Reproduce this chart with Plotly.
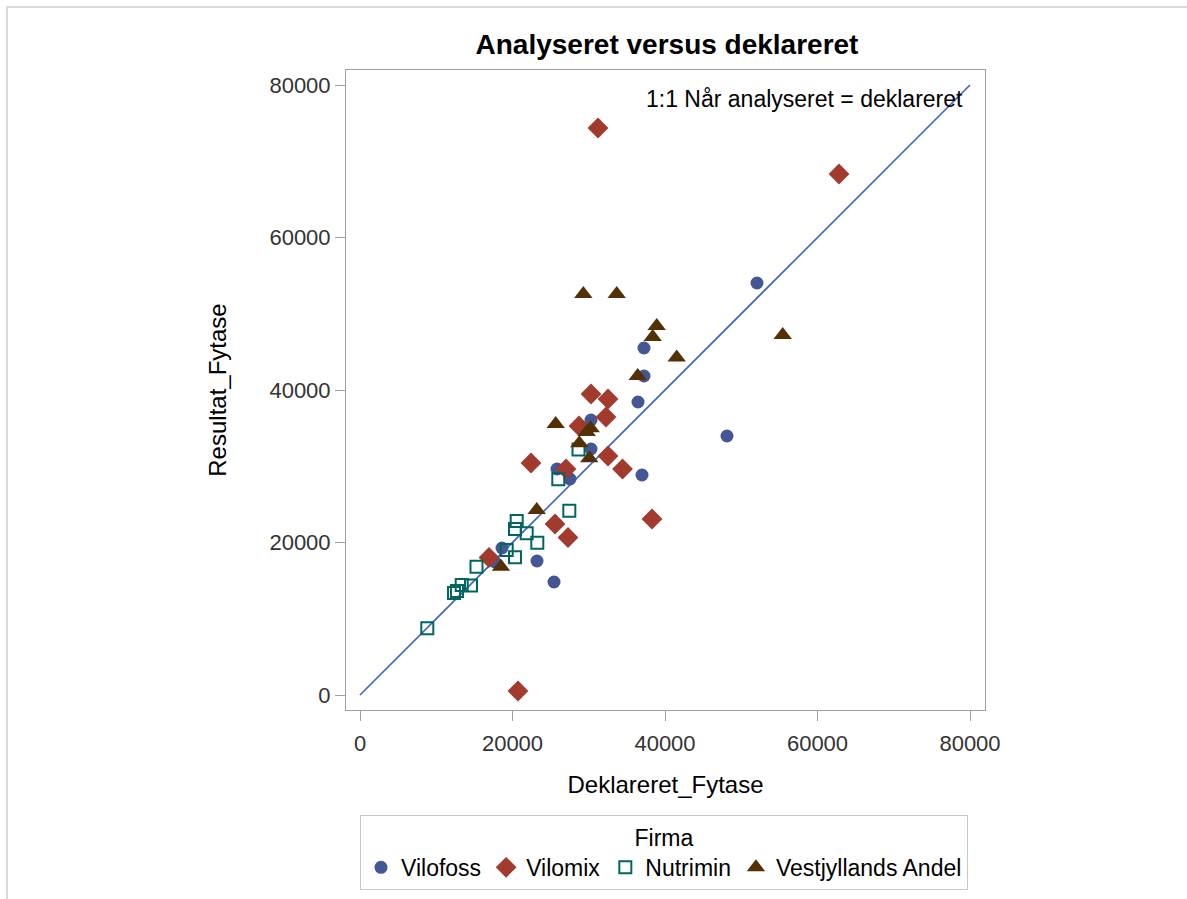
import plotly.graph_objects as go

# ---- data ----
vilofoss_x = [52066, 48131, 37246, 37246, 36459, 36984, 30295, 30295, 25836, 27541, 18623, 17705, 23213, 25443]
vilofoss_y = [54033, 33967, 45508, 41836, 38426, 28852, 36066, 32262, 29639, 28328, 19279, 17443, 17574, 14820]

vilomix_x = [31213, 62820, 30295, 32524, 32262, 28721, 22426, 27016, 32524, 34426, 25574, 27279, 38295, 16918, 20721]
vilomix_y = [74361, 68328, 39475, 38820, 36459, 35279, 30426, 29639, 31344, 29639, 22426, 20656, 23082, 18033, 525]

nutrimin_x = [28656, 26007, 27450, 20551, 20328, 21862, 23252, 19239, 20328, 15279, 14557, 13338, 12721, 12328, 8826]
nutrimin_y = [32197, 28288, 24170, 22820, 21770, 21207, 19974, 19016, 18059, 16826, 14361, 14426, 13639, 13377, 8748]

vest_x = [29289, 33666, 38912, 38387, 41534, 36420, 55436, 25666, 30256, 29731, 28761, 30072, 23174, 18492]
vest_y = [52590, 52590, 48393, 46951, 44262, 41836, 47213, 35541, 34977, 34492, 33010, 31043, 24262, 16826]

ref_line = [0, 80000]
ticks = [0, 20000, 40000, 60000, 80000]

FONT = "Liberation Sans"
W, H = 1187, 899
L, R, T, B = 346, 985, 70, 710

fig = go.Figure()
fig.add_trace(go.Scatter(x=ref_line, y=ref_line, mode="lines",
                         line=dict(color="#3a62c8", width=1.6),
                         showlegend=False, hoverinfo="skip"))

series = [
    ("Vilofoss", vilofoss_x, vilofoss_y, "circle", "#445694", 13, None),
    ("Vilomix", vilomix_x, vilomix_y, "diamond", "#A23A2E", 16, None),
    ("Nutrimin", nutrimin_x, nutrimin_y, "square-open", "#01665E", 12, 2),
    ("Vestjyllands Andel", vest_x, vest_y, "triangle-up", "#543005", 16, None),
]
for name, xs, ys, sym, col, sz, lw in series:
    mk = dict(symbol=sym, color=col, size=sz)
    if lw:
        mk["line"] = dict(color=col, width=lw)
    else:
        mk["line"] = dict(width=0)
    fig.add_trace(go.Scatter(x=xs, y=ys, mode="markers", name=name, marker=mk))

def px2paper_x(px):
    return (px - L) / (R - L)

def px2paper_y(py):
    return (B - py) / (B - T)

axis_common = dict(
    showgrid=False, zeroline=False, showline=True, linecolor="#a0a0a0", linewidth=1,
    mirror=True, ticks="outside", ticklen=10, tickcolor="#a0a0a0",
    tickvals=ticks, ticktext=[str(t) for t in ticks],
    tickfont=dict(family=FONT, size=22, color="#333333"),
    automargin=False,
)

fig.update_layout(
    width=W, height=H,
    margin=dict(l=L, r=W - R, t=T, b=H - B),
    paper_bgcolor="white", plot_bgcolor="white",
    title=dict(text="<b>Analyseret versus deklareret</b>", x=px2paper_x(667), xref="paper", xanchor="center",
               y=1 - 44 / H, yref="container", yanchor="middle",
               font=dict(family=FONT, size=28, color="#000000")),
    xaxis=dict(range=[-1836, 81967], ticklabelstandoff=4,
               title=dict(text="Deklareret_Fytase", standoff=20,
                          font=dict(family=FONT, size=24, color="#000000")), **axis_common),
    yaxis=dict(range=[-1967, 81967],
               title=dict(text="Resultat_Fytase", standoff=36,
                          font=dict(family=FONT, size=24, color="#000000")), **axis_common),
    legend=dict(orientation="h", x=px2paper_x(664), xanchor="center",
                yref="container", y=1 - 815 / H, yanchor="top",
                bordercolor="#c8c8c8", borderwidth=1, bgcolor="white",
                title=dict(text="Firma", side="top center", font=dict(family=FONT, size=23, color="#000000")),
                font=dict(family=FONT, size=23, color="#000000"),
                itemwidth=30, tracegroupgap=0),
    annotations=[dict(x=79344, y=78164, xref="x", yref="y", text="1:1 Når analyseret = deklareret",
                      showarrow=False, xanchor="right", yanchor="middle",
                      font=dict(family=FONT, size=23, color="#000000"))],
    shapes=[
        dict(type="line", xref="paper", yref="paper", x0=px2paper_x(6), x1=px2paper_x(1190),
             y0=px2paper_y(7), y1=px2paper_y(7), line=dict(color="#d9d9d9", width=2)),
        dict(type="line", xref="paper", yref="paper", x0=px2paper_x(7), x1=px2paper_x(7),
             y0=px2paper_y(6), y1=px2paper_y(905), line=dict(color="#d9d9d9", width=2)),
    ],
)

fig.write_html("out.html", config={"displayModeBar": False},
               post_script="document.body.style.margin='0';document.body.style.overflow='hidden';")
